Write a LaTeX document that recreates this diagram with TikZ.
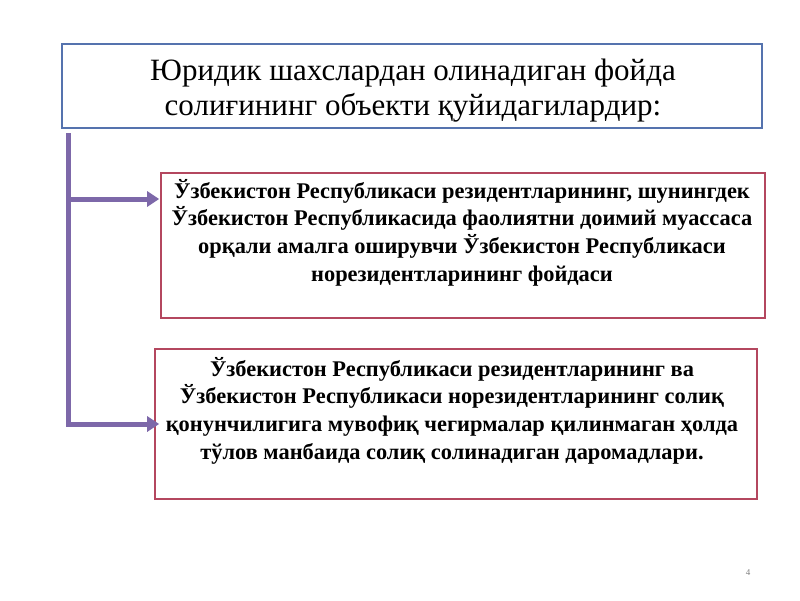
\documentclass[tikz,border=0pt]{standalone}
\usepackage{fontspec}
\setmainfont{Liberation Serif}
\usepackage{tikz}
\usetikzlibrary{arrows.meta}

\definecolor{titleline}{HTML}{5573AE}
\definecolor{boxline}{HTML}{B4475F}
\definecolor{linkline}{HTML}{7D68A9}

\tikzset{
  titlebox/.style={draw=titleline, line width=2pt, minimum width=700pt, minimum height=84pt, inner sep=0pt},
  itembox/.style={draw=boxline, line width=1.6pt, inner sep=0pt},
  itemtext/.style={anchor=north, align=center, font=\bfseries\fontsize{22.4}{27.7}\selectfont},
  link/.style={draw=linkline, line width=5pt, -{Triangle[width=15pt,length=12pt]}}
}

\begin{document}
\begin{tikzpicture} [x=1pt, y=-1pt]
\useasboundingbox (0,0) rectangle (800,600);

\path (412,86) node[titlebox] (title) {}
	  (413,90.5) node[align=center, font=\fontsize{31}{35}\selectfont] (tt) {Юридик шахслардан олинадиган фойда\\ солиғининг объекти қуйидагилардир:}

(463,245.5) node[itembox, minimum width=604pt, minimum height=145pt] (box1) {}
(462,175.5) node[itemtext] (t1) {Ўзбекистон Республикаси резидентларининг, шунингдек\\ Ўзбекистон Республикасида фаолиятни доимий муассаса\\ орқали амалга оширувчи Ўзбекистон Республикаси\\ норезидентларининг фойдаси}

(456,424) node[itembox, minimum width=602pt, minimum height=150pt] (box2) {}
(452,353.5) node[itemtext] (t2) {Ўзбекистон Республикаси резидентларининг ва\\ Ўзбекистон Республикаси норезидентларининг солиқ\\ қонунчилигига мувофиқ чегирмалар қилинмаган ҳолда\\ тўлов манбаида солиқ солинадиган даромадлари.}

(748,573) node[text=gray, font=\fontsize{9}{10}\selectfont] (page) {4};

\coordinate (top) at (68,133);
\coordinate (j1) at (68,199);
\coordinate (bend) at (68,424);

\draw[link] (top) -- (bend) -- ([xshift=5pt]box2.west);
\draw[link] (j1) -- ([xshift=-1pt]j1 -| box1.west);
	  
\end{tikzpicture}
\end{document}
